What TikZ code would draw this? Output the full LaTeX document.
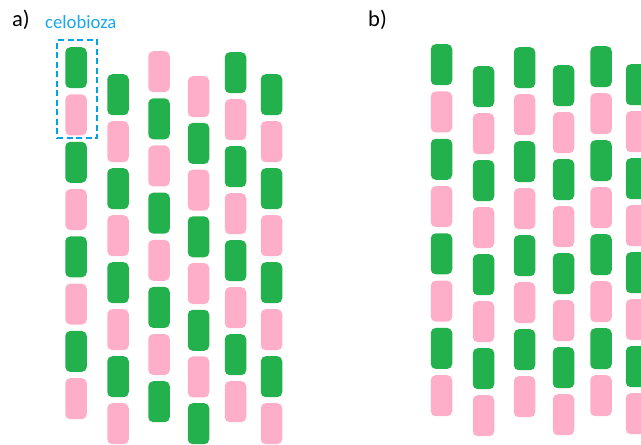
\documentclass[tikz,border=0pt]{standalone}
\usepackage{fontspec}
\setmainfont{Carlito}
\definecolor{cgreen}{HTML}{22B14C}
\definecolor{cpink}{HTML}{FFAEC9}
\definecolor{cblue}{HTML}{00A2E8}
\definecolor{ctext}{HTML}{1AA7EC}
\tikzset{
  blk/.style={rectangle, rounded corners=5pt, minimum width=21.5pt, minimum height=41pt, inner sep=0pt, draw=none, anchor=north},
  gblk/.style={blk, fill=cgreen},
  pblk/.style={blk, fill=cpink},
  dashbox/.style={rectangle, draw=cblue, line width=2pt, dash pattern=on 6pt off 3.5pt, inner sep=0pt, minimum width=40pt, minimum height=98pt},
  panellabel/.style={anchor=base west, inner sep=0pt, font=\fontsize{22.5}{26}\selectfont},
}
\begin{document}
\begin{tikzpicture}[x=1pt,y=-1pt]
\useasboundingbox (0,0) rectangle (641,445);
% panel labels
\node[panellabel] (la) at (12,26) {a)};
\node[panellabel] (lb) at (368,26) {b)};
\node[anchor=base west, inner sep=0pt, text=ctext, font=\fontsize{18.7}{22}\selectfont] (cel) at (45,28) {celobioza};
% panel a: column / centre x / first top / last top / starts with (0 green, 1 pink)
\foreach \c/\cx/\t/\l/\s in {1/76/47/378/0, 2/118/74/403/0, 3/159/51/381/1, 4/198.5/76/403/1, 5/235.5/52/381/0, 6/271.5/74/403/0}{
  \foreach \k in {0,...,7}{
    \pgfmathtruncatemacro{\col}{mod(\k+\s,2)}
    \pgfmathsetmacro{\yy}{\t+\k*(\l-\t)/7}
    \ifnum\col=0
      \node[gblk] (a-\c-\k) at (\cx,\yy) {};
    \else
      \node[pblk] (a-\c-\k) at (\cx,\yy) {};
    \fi
  }
}
% panel b
\foreach \c/\cx/\t/\l/\s in {1/441.5/44/375/0, 2/483.5/66/395/0, 3/524.5/47/376/0, 4/563.5/65/394/0, 5/601/46/375/0, 6/636.5/64/393/0}{
  \foreach \k in {0,...,7}{
    \pgfmathtruncatemacro{\col}{mod(\k+\s,2)}
    \pgfmathsetmacro{\yy}{\t+\k*(\l-\t)/7}
    \ifnum\col=0
      \node[gblk] (b-\c-\k) at (\cx,\yy) {};
    \else
      \node[pblk] (b-\c-\k) at (\cx,\yy) {};
    \fi
  }
}
% cellobiose box
\node[dashbox] (dimer) at (77,89) {};
\end{tikzpicture}
\end{document}
